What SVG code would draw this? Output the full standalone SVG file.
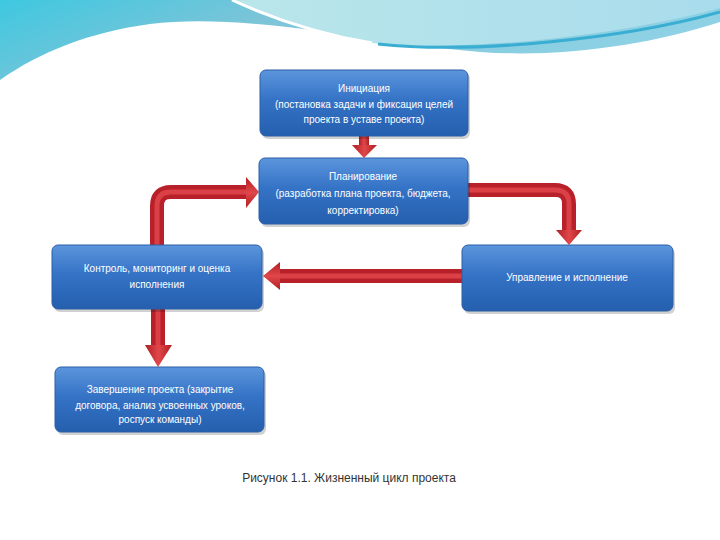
<svg xmlns="http://www.w3.org/2000/svg" width="720" height="540" viewBox="0 0 720 540">
<defs>
<linearGradient id="box" x1="0" y1="0" x2="0" y2="1">
<stop offset="0" stop-color="#5b95dc"/>
<stop offset="0.45" stop-color="#3573c6"/>
<stop offset="1" stop-color="#255fae"/>
</linearGradient>
<linearGradient id="wave" x1="0" y1="0" x2="1" y2="0.3">
<stop offset="0" stop-color="#3ec8e0"/>
<stop offset="0.4" stop-color="#7cc4d8"/>
<stop offset="1" stop-color="#8fd2e6"/>
</linearGradient>
<linearGradient id="swirl" x1="0" y1="0" x2="1" y2="0">
<stop offset="0" stop-color="#b9e6ea"/>
<stop offset="1" stop-color="#a9dcec"/>
</linearGradient>
<linearGradient id="headV" x1="0" y1="0" x2="1" y2="0">
<stop offset="0" stop-color="#b01e22"/>
<stop offset="0.5" stop-color="#e0474a"/>
<stop offset="1" stop-color="#b01e22"/>
</linearGradient>
<linearGradient id="headH" x1="0" y1="0" x2="0" y2="1">
<stop offset="0" stop-color="#b01e22"/>
<stop offset="0.5" stop-color="#e0474a"/>
<stop offset="1" stop-color="#b01e22"/>
</linearGradient>
</defs>
<style>
.bx{fill:url(#box);stroke:#2a5ea6;stroke-width:1}
.sh{fill:#000;opacity:0.18}
.t{font-family:"Liberation Sans",Arial,sans-serif;font-size:10px;fill:#ffffff;text-anchor:middle}
.sO{fill:none;stroke:#b8202a;stroke-width:14}
.sI{fill:none;stroke:#e2494d;stroke-width:5;opacity:0.8}
.cap{font-family:"Liberation Sans",Arial,sans-serif;font-size:12px;fill:#333333;text-anchor:middle}
</style>
<rect width="720" height="540" fill="#ffffff"/>
<g id="background">
<path d="M0,0 H720 V22 C650,45 560,58 480,52 C380,44 250,12 150,24 C90,32 40,52 0,80 Z" fill="url(#wave)"/>
<path d="M232,0 C280,22 330,36 372,43 C460,52 610,38 720,8 V0 Z" fill="url(#swirl)"/>
<path d="M232,0 C280,22 330,36 372,43" fill="none" stroke="#ffffff" stroke-width="3"/>
<path d="M378,44 C470,54 620,40 720,12" fill="none" stroke="#3aaed2" stroke-width="3"/>
</g>
<g id="connectors">
<rect x="359" y="136" width="10" height="10" fill="url(#headV)"/>
<polygon points="352,145 377,145 364,158" fill="url(#headV)"/>
<path class="sO" d="M157,245 V206 Q157,192 171,192 H248"/>
<path class="sI" d="M157,245 V206 Q157,192 171,192 H248"/>
<polygon points="246,177 246,208 259,192" fill="url(#headH)"/>
<path class="sO" d="M468,190 H555 Q569,190 569,204 V232"/>
<path class="sI" d="M468,190 H555 Q569,190 569,204 V232"/>
<polygon points="556,230 582,230 569,245" fill="url(#headV)"/>
<path class="sO" d="M462,276 H278"/>
<path class="sI" d="M462,276 H278"/>
<polygon points="280,262 280,290 263,276" fill="url(#headH)"/>
<path class="sO" d="M158,309 V347"/>
<path class="sI" d="M158,309 V347"/>
<polygon points="145,345 172,345 158,367" fill="url(#headV)"/>
</g>
<g id="node-init">
<rect class="sh" x="262" y="73" width="208" height="66" rx="6"/>
<rect class="bx" x="260" y="70" width="208" height="66" rx="6"/>
<text class="t" x="364" y="91.5">Инициация</text>
<text class="t" x="364" y="107.5">(постановка задачи и фиксация целей</text>
<text class="t" x="364" y="122.5">проекта в уставе проекта)</text>
</g>
<g id="node-plan">
<rect class="sh" x="261" y="161" width="209" height="66" rx="6"/>
<rect class="bx" x="259" y="158" width="209" height="66" rx="6"/>
<text class="t" x="363" y="179.5">Планирование</text>
<text class="t" x="363" y="196.5">(разработка плана проекта, бюджета,</text>
<text class="t" x="363" y="213.5">корректировка)</text>
</g>
<g id="node-control">
<rect class="sh" x="54" y="248" width="210" height="64" rx="6"/>
<rect class="bx" x="52" y="245" width="210" height="64" rx="6"/>
<text class="t" x="157" y="271.5">Контроль, мониторинг и оценка</text>
<text class="t" x="157" y="287.5">исполнения</text>
</g>
<g id="node-exec">
<rect class="sh" x="464" y="248" width="211" height="66" rx="6"/>
<rect class="bx" x="462" y="245" width="211" height="66" rx="6"/>
<text class="t" x="567" y="280.5">Управление и исполнение</text>
</g>
<g id="node-close">
<rect class="sh" x="57" y="370" width="209" height="65" rx="6"/>
<rect class="bx" x="55" y="367" width="209" height="65" rx="6"/>
<text class="t" x="160" y="392.5">Завершение проекта (закрытие</text>
<text class="t" x="160" y="408.5">договора, анализ усвоенных уроков,</text>
<text class="t" x="160" y="422.5">роспуск команды)</text>
</g>
<text class="cap" x="349" y="482">Рисунок 1.1. Жизненный цикл проекта</text>
</svg>
